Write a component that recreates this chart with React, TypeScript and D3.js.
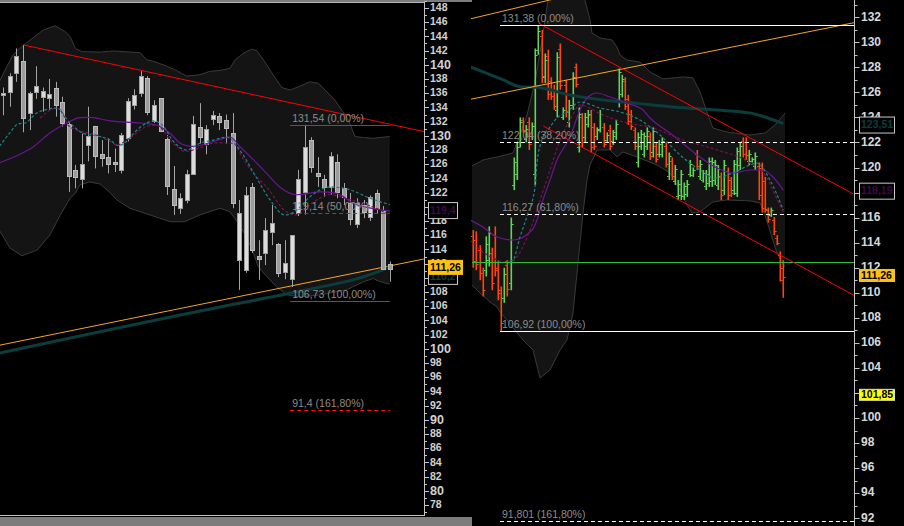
import React from "react";
import * as d3 from "d3";

type P = [number, number];
type OHLC = [number, number, number, number];

// ---------- LEFT PANEL DATA (candles: open, high, low, close) ----------
const leftCandles: OHLC[] = [
  [135.65, 136.8, 132.9, 136.0], [136.1, 138.8, 134.1, 138.4], [138.8, 142.3, 137.6, 141.2],
  [140.5, 142.8, 130.5, 132.5], [133.2, 136.2, 130.8, 136.0], [136.1, 139.8, 135.2, 137.0],
  [135.4, 136.8, 133.4, 136.3], [135.3, 138.0, 133.6, 135.9], [136.7, 137.6, 132.7, 134.3],
  [134.7, 135.5, 131.3, 131.8], [131.7, 131.8, 122.1, 124.4], [125.2, 125.9, 122.6, 124.2],
  [123.9, 130.3, 122.6, 126.0], [128.8, 134.1, 126.4, 130.0], [131.4, 131.4, 125.4, 127.2],
  [127.4, 129.4, 125.65, 126.8], [127.0, 129.65, 124.7, 126.0], [126.3, 128.2, 124.9, 126.0],
  [125.2, 130.4, 124.7, 130.1], [129.7, 135.3, 129.2, 134.9], [134.3, 136.55, 133.7, 135.75],
  [136.0, 139.1, 135.5, 138.4], [138.1, 138.4, 132.9, 133.3], [132.1, 135.0, 131.8, 134.3],
  [135.3, 135.3, 130.6, 130.7], [129.55, 130.1, 121.66, 122.9], [122.5, 125.75, 118.85, 120.25],
  [119.8, 121.9, 119.0, 121.2], [120.96, 125.2, 120.5, 124.6], [124.5, 132.8, 124.5, 131.6],
  [131.2, 134.6, 128.9, 129.8], [128.9, 131.5, 127.4, 131.0], [132.5, 133.5, 131.5, 133.0],
  [132.75, 133.2, 130.8, 131.9], [132.2, 133.0, 128.9, 131.1], [130.4, 133.2, 119.8, 120.5],
  [112.5, 120.96, 108.3, 119.1], [111.1, 122.8, 110.7, 121.7], [122.8, 123.35, 113.5, 113.9],
  [113.1, 115.3, 109.7, 112.7], [113.5, 118.4, 111.8, 116.7], [116.45, 120.25, 114.6, 117.7],
  [114.8, 114.9, 110.1, 110.7], [110.8, 115.3, 109.8, 112.1], [109.8, 116.0, 108.7, 116.0],
  [119.1, 125.2, 118.7, 123.9], [122.1, 131.54, 118.9, 128.4], [129.4, 129.8, 124.8, 125.6],
  [124.75, 127.0, 122.8, 124.3], [123.9, 124.5, 121.4, 122.8], [122.8, 127.7, 121.7, 127.2],
  [126.3, 127.4, 121.2, 122.1], [122.65, 123.35, 120.25, 121.4], [120.5, 121.95, 117.4, 118.3],
  [117.6, 121.2, 117.0, 120.5], [120.25, 120.96, 118.4, 119.3], [118.6, 121.6, 118.0, 121.4],
  [121.9, 122.4, 119.1, 119.8], [119.4, 120.1, 111.1, 111.3], [112.0, 112.3, 109.45, 111.26],
];

const leftBandUpper: P[] = [
  [-0.6, 137.6], [0.5, 139.7], [1.5, 141.4], [2.5, 142.3], [4.1, 143.5], [6.1, 144.9], [7.9, 145.5],
  [9.4, 144.7], [10.2, 144.0], [11, 142.3], [12, 141.85], [14.8, 141.8], [16.8, 141.95], [20.9, 141.7],
  [21.9, 140.7], [22.9, 140.5], [24.4, 140.0], [26, 139.4], [27.2, 138.8], [28, 138.4], [30, 138.6],
  [31.6, 139.1], [33.1, 139.2], [34.6, 139.5], [35.4, 140.7], [36.6, 141.6], [37.9, 142.2], [38.7, 142.0],
  [39.7, 140.7], [41.2, 138.6], [42.5, 136.8], [43.8, 136.45], [45.3, 137.0], [46.8, 137.6], [48.1, 137.4],
  [49.4, 136.2], [50.6, 135.05], [51.7, 133.6], [52.7, 132.2], [53.7, 129.9], [55, 129.75], [56.5, 129.65],
  [59, 129.9],
];
const leftBandLower: P[] = [
  [-0.6, 116.7], [1, 114.2], [2.85, 113.1], [5.15, 113.9], [7.1, 116.0], [8.7, 118.85], [10.2, 121.2],
  [11, 121.9], [11.7, 123.1], [13.2, 123.5], [14.8, 123.2], [16.3, 122.0], [17.3, 121.0], [19.3, 119.8],
  [22.4, 118.85], [25.5, 117.9], [27.7, 117.9], [30, 118.85], [33.1, 119.8], [34.6, 119.3], [36.1, 117.4],
  [37.2, 115.6], [38.2, 113.45], [38.9, 111.6], [40.2, 110.2], [41.7, 108.75], [43.3, 107.6], [45.3, 107.3],
  [48.35, 107.6], [52.4, 108.3], [55, 109.45], [56.5, 109.9], [57.5, 109.45], [59, 109.1],
];
const leftTealDash: P[] = [
  [-0.6, 128.5], [1.0, 130.4], [2.3, 131.7], [3.3, 131.8], [5.1, 133.2], [6.6, 133.7], [7.9, 133.9],
  [8.7, 133.7], [9.4, 132.7], [11.0, 131.1], [12.2, 130.35], [14.3, 130.0], [16.3, 129.4], [17.6, 128.6],
  [18.8, 129.2], [19.9, 130.35], [20.9, 131.2], [21.9, 131.8], [22.9, 132.1], [24.4, 131.4], [25.8, 129.4],
  [28.0, 128.0], [30.0, 128.95], [32.1, 129.4], [34.1, 129.8], [36.1, 128.0], [38.4, 124.5], [40.7, 121.0],
  [43.0, 118.85], [44.8, 119.55], [46.8, 121.4], [49.9, 122.8], [52.9, 122.4], [56.0, 121.2], [59.0, 120.3],
];
const leftPurple: P[] = [
  [-0.6, 126.2], [2.55, 127.4], [4.5, 128.4], [7.1, 130.4], [9.7, 131.8], [11.7, 132.55], [13.2, 132.6],
  [16.3, 132.1], [20.9, 131.8], [23.4, 131.5], [25.45, 130.35], [27.2, 128.85], [29.0, 128.5], [32.1, 129.2],
  [34.6, 129.8], [36.1, 128.5], [38.2, 126.6], [40.2, 124.7], [42.2, 122.8], [44.8, 121.7], [48.35, 122.1],
  [50.9, 121.9], [53.4, 120.5], [57.5, 119.6], [59.0, 119.4],
];
const leftMaroonDash: P[] = [
  [5.6, 132.5], [8.15, 133.9], [9.2, 132.9], [9.9, 131.5], [11.2, 130.8], [13.2, 130.35], [14.8, 129.9],
  [16.3, 129.2], [17.3, 128.7], [19.3, 129.7], [21.9, 131.3], [23.4, 131.5], [24.4, 130.8], [25.45, 129.4],
  [26.5, 128.5], [27.7, 127.8], [30.0, 128.3], [32.3, 129.0], [35.1, 128.95], [36.6, 126.8], [38.1, 124.8],
  [40.2, 122.8], [43.2, 119.3], [44.8, 118.85], [46.8, 120.3], [49.9, 121.7], [52.9, 121.0], [57.5, 119.55],
  [59.0, 118.85],
];
const leftTealThick: P[] = [
  [-0.6, 99.4], [33.1, 105.9], [45.3, 108.1], [48.35, 108.7], [53.4, 109.7], [57.05, 110.8], [59.0, 111.5],
];
const leftRedTrend: P[] = [[3.05, 142.8], [64.2, 130.6]];
const leftOrangeTrend: P[] = [[-0.6, 100.5], [64.2, 112.65]];
const leftFibLevels = [131.54, 119.14, 106.73, 91.4];
const leftFibLabels = ["131,54 (0,00%)", "119,14 (50,00%)", "106,73 (100,00%)", "91,4 (161,80%)"];
const leftFibSpan: P = [43.8, 59];
const leftTicks = d3.range(78, 149, 2);
const leftMinorTicks = d3.range(77, 150, 2);
const leftTicksHidden = [110];

// ---------- RIGHT PANEL DATA (bars: open, high, low, close) ----------
const rightBars: OHLC[] = [
  [114.5, 115.0, 112.0, 112.5], [114.2, 114.9, 111.8, 112.3], [113.4, 113.8, 111.0, 111.6],
  [111.6, 112.0, 109.7, 110.2], [111.8, 114.5, 111.3, 113.9], [112.6, 115.3, 112.1, 114.8],
  [113.2, 113.6, 110.2, 110.8], [114.6, 115.3, 111.3, 111.8], [112.0, 112.6, 109.4, 110.0],
  [110.2, 110.5, 106.92, 107.6], [109.6, 112.0, 109.2, 111.5], [112.2, 112.6, 109.7, 110.3],
  [110.8, 116.0, 110.2, 115.5], [118.6, 120.8, 118.2, 120.4], [119.5, 122.0, 119.0, 121.6],
  [122.0, 124.0, 121.6, 123.6], [123.8, 124.0, 122.8, 123.0], [122.3, 123.4, 122.0, 123.1],
  [123.6, 124.0, 121.4, 121.9], [122.5, 123.6, 122.2, 123.3], [119.5, 129.5, 118.6, 129.0],
  [129.4, 131.38, 129.0, 130.9], [130.5, 131.0, 126.75, 127.3], [127.2, 129.1, 126.75, 128.6],
  [128.9, 129.4, 125.4, 125.9], [126.9, 127.2, 125.4, 125.7], [126.2, 126.6, 124.6, 124.9],
  [124.6, 129.2, 124.0, 128.8], [129.5, 129.9, 126.2, 126.6], [124.0, 124.8, 123.8, 124.6],
  [126.6, 127.0, 124.0, 124.4], [123.6, 125.4, 123.2, 125.0], [125.0, 127.6, 124.6, 127.2],
  [128.0, 128.3, 126.4, 126.7], [121.6, 124.8, 121.2, 124.3], [124.0, 124.35, 121.6, 122.0],
  [122.4, 124.35, 122.0, 124.0], [123.5, 124.6, 123.2, 124.3], [124.2, 124.6, 121.2, 121.6],
  [123.2, 123.55, 121.4, 121.7], [122.5, 123.2, 122.2, 123.0], [123.1, 124.6, 122.8, 124.3],
  [123.2, 123.55, 121.6, 121.9], [122.2, 122.8, 122.0, 122.6], [123.0, 123.4, 121.4, 121.7],
  [122.1, 123.0, 121.8, 122.8], [122.5, 123.8, 122.2, 123.5], [125.2, 127.9, 124.8, 127.6],
  [125.9, 127.4, 125.6, 127.1], [126.9, 127.2, 124.6, 124.9], [125.5, 125.8, 123.4, 123.7],
  [124.3, 124.6, 123.0, 123.3], [123.0, 123.2, 121.4, 121.7], [120.4, 122.8, 120.0, 122.4],
  [121.7, 123.0, 121.4, 122.7], [121.1, 122.8, 120.8, 122.5], [121.7, 123.2, 121.4, 122.9],
  [122.5, 122.8, 120.6, 120.9], [121.2, 123.2, 120.8, 122.9], [121.7, 122.0, 120.4, 120.7],
  [121.1, 122.2, 120.8, 121.9], [121.1, 122.4, 120.8, 122.1], [121.7, 122.0, 120.0, 120.3],
  [119.3, 121.2, 119.0, 120.9], [120.5, 120.8, 119.0, 119.3], [118.9, 120.2, 118.6, 119.9],
  [117.7, 119.0, 117.4, 118.7], [117.8, 119.8, 117.4, 119.5], [117.7, 118.8, 117.4, 118.5],
  [117.9, 119.0, 117.65, 118.7], [119.5, 120.6, 119.25, 120.3], [119.4, 120.0, 119.25, 119.8],
  [121.1, 121.4, 119.8, 120.1], [119.3, 120.6, 119.0, 120.3], [119.0, 119.8, 118.8, 119.6],
  [118.5, 119.8, 118.2, 119.5], [118.8, 120.8, 118.45, 120.5], [118.9, 120.8, 118.45, 120.4],
  [119.0, 120.6, 118.6, 120.2], [118.6, 120.2, 118.2, 119.9], [119.3, 119.6, 117.4, 117.8],
  [118.2, 120.6, 117.8, 120.2], [119.7, 120.0, 117.4, 117.8], [119.0, 119.25, 117.65, 118.0],
  [118.2, 120.6, 117.8, 120.3], [118.0, 121.6, 117.65, 121.3], [120.2, 122.0, 119.8, 121.7],
  [122.1, 122.4, 120.8, 121.1], [122.0, 122.4, 120.6, 121.0], [120.5, 121.4, 120.2, 121.1],
  [120.5, 120.8, 120.4, 120.7], [120.1, 121.2, 119.8, 120.9], [120.1, 120.4, 117.4, 117.8],
  [120.0, 120.4, 116.4, 116.8], [118.9, 119.25, 116.4, 116.7], [116.6, 116.8, 115.6, 115.9],
  [116.2, 116.8, 116.05, 116.6], [115.8, 116.05, 114.6, 114.9], [114.4, 114.6, 113.8, 114.0],
  [113.0, 113.3, 110.9, 111.0], [112.0, 112.6, 109.6, 111.26],
];

const rightBandUpper: P[] = [
  [-0.42, 120.12], [3.13, 120.6], [7.65, 120.84], [12.81, 121.16], [15.06, 122.6], [17.32, 124.19],
  [19.26, 126.19], [20.55, 127.78], [22.16, 130.18], [24.1, 133.37], [27.97, 135.37], [32.81, 135.37],
  [36.03, 133.37], [37.65, 131.78], [38.29, 130.74], [40.87, 130.34], [44.74, 130.18], [46.35, 129.62],
  [47.32, 128.98], [49.58, 128.58], [53.77, 128.42], [57.0, 127.62], [61.19, 127.07], [67.65, 127.23],
  [70.87, 127.15], [73.13, 126.03], [75.71, 124.19], [77.32, 123.15], [81.84, 122.83], [89.26, 122.59],
  [94.1, 122.75], [97.97, 123.55], [100.55, 124.35],
];
const rightBandLower: P[] = [
  [-0.42, 110.62], [2.16, 109.98], [5.39, 109.26], [7.65, 108.86], [8.61, 108.46], [10.87, 107.82],
  [12.81, 107.19], [16.03, 106.23], [19.26, 105.43], [21.52, 103.19], [24.74, 103.83], [27.97, 105.43],
  [30.23, 106.23], [32.16, 108.38], [33.77, 112.37], [35.39, 116.37], [36.68, 119.0], [37.65, 120.2],
  [39.9, 121.4], [44.1, 121.4], [46.35, 120.84], [48.29, 121.24], [52.81, 120.84], [59.26, 120.2],
  [63.45, 119.56], [66.68, 118.2], [68.94, 117.0], [70.55, 116.37], [73.13, 116.45], [77.32, 117.25],
  [81.84, 117.41], [89.26, 117.33], [92.48, 117.17], [93.77, 116.45], [97.97, 113.17], [100.55, 112.06],
];
const rightTealThick: P[] = [
  [-1.06, 128.05], [9.68, 126.99], [15.06, 126.45], [20.45, 126.4], [31.19, 125.79], [41.94, 125.39],
  [52.71, 125.12], [63.45, 124.85], [78.52, 124.59], [89.26, 124.35], [100, 123.51],
];
const rightPurple: P[] = [
  [-1.06, 115.81], [3.13, 115.25], [7.65, 114.45], [12.81, 114.21], [18.94, 115.01], [20.55, 115.81],
  [22.16, 117.17], [24.74, 119.0], [27.0, 120.6], [31.19, 122.43], [34.42, 124.59], [37.0, 125.63],
  [39.9, 125.95], [44.1, 125.63], [49.58, 125.15], [54.74, 124.59], [57.0, 123.95], [63.45, 122.75],
  [73.13, 120.84], [78.61, 119.96], [83.77, 119.56], [89.26, 119.8], [93.45, 119.8], [96.68, 119.24],
  [100, 118.19],
];
const rightTealDash: P[] = [
  [10.2, 112.45], [12.8, 112.62], [15.06, 114.45], [17.65, 116.37], [19.9, 118.44], [20.55, 120.36],
  [22.16, 122.2], [24.74, 123.23], [27.0, 123.95], [30.23, 124.43], [34.42, 125.23], [40.87, 124.75],
  [47.32, 124.43], [53.77, 123.79], [60.23, 122.59], [66.68, 121.0], [73.13, 119.8], [77.97, 119.16],
  [83.77, 119.56], [89.26, 120.2], [91.52, 120.36], [95.71, 119.0], [100, 116.6],
];
const rightMaroonDash: P[] = [
  [-1.06, 114.21], [3.13, 113.25], [7.65, 112.62], [9.58, 112.45], [11.84, 112.45], [18.29, 115.01],
  [21.52, 117.41], [24.74, 119.8], [27.97, 122.2], [31.19, 123.79], [34.42, 124.99], [41.84, 124.19],
  [49.58, 123.55], [57.0, 123.23], [67.65, 122.2], [78.61, 121.4], [89.26, 120.36], [94.74, 119.16],
  [97.32, 117.81], [100, 116.45],
];
const rightOrangeTrend1: P[] = [[-1.06, 131.86], [30, 133.69]];
const rightOrangeTrend2: P[] = [[-1.06, 125.44], [122.8, 131.56]];
const rightRedTrend1: P[] = [[21.52, 131.46], [122.8, 117.86]];
const rightRedTrend2: P[] = [[22.58, 123.31], [122.6, 109.82]];
const rightGreenLevel = 112.45;
const rightFibLevels = [131.38, 122.04, 116.27, 106.92, 91.801];
const rightFibLabels = ["131,38 (0,00%)", "122,04 (38,20%)", "116,27 (61,80%)", "106,92 (100,00%)", "91,801 (161,80%)"];
const rightFibStart = 8.6;
const rightTicks = d3.range(92, 133, 2);
const rightMinorTicks = d3.range(91, 134, 2);
const rightTicksHidden = [102, 118];

const FONT = "'Liberation Sans', Arial, sans-serif";

export default function App() {
  const xL = d3.scaleLinear().domain([0, 59]).range([3.3, 389.75]);
  const yL = d3.scaleLinear().domain([78, 148]).range([505, 8]);
  const xR = d3.scaleLinear().domain([0, 100]).range([473.3, 783.3]);
  const yR = d3.scaleLinear().domain([92, 132]).range([518.2, 17.2]);

  const lineL = d3.line<P>().x((d) => xL(d[0])).y((d) => yL(d[1]));
  const smoothL = d3.line<P>().x((d) => xL(d[0])).y((d) => yL(d[1])).curve(d3.curveMonotoneX);
  const lineR = d3.line<P>().x((d) => xR(d[0])).y((d) => yR(d[1]));
  const smoothR = d3.line<P>().x((d) => xR(d[0])).y((d) => yR(d[1])).curve(d3.curveMonotoneX);

  const band = (up: P[], lo: P[], ln: d3.Line<P>) => ln([...up, ...lo.slice().reverse()]) + "Z";

  const AXL = 424.5;
  const AXR = 854.5;
  const leftFibX0 = xL(leftFibSpan[0]);
  const leftFibX1 = xL(leftFibSpan[1]);
  const rightFibX0 = xR(rightFibStart);

  const valueBox = (
    x: number, cy: number, w: number, h: number, text: string,
    fill: string, color: string, stroke: string
  ) => (
    <g>
      <rect x={x + 0.5} y={cy - h / 2 + 0.5} width={w} height={h} fill={fill} stroke={stroke} strokeWidth={1} />
      <text x={x + 2} y={cy} dy="0.36em" fontFamily={FONT} fontSize={10.5} fontWeight="bold" fill={color}>
        {text}
      </text>
    </g>
  );

  return (
    <svg
      width={904}
      height={526}
      style={{ position: "absolute", left: 0, top: 0, display: "block", background: "#000" }}
    >
      <defs>
        <clipPath id="clipL">
          <rect x={0} y={3} width={424} height={512} />
        </clipPath>
        <clipPath id="clipR">
          <rect x={471} y={0} width={383} height={526} />
        </clipPath>
      </defs>
      <rect x={0} y={0} width={904} height={526} fill="#000" />

      {/* ---------------- LEFT PANEL ---------------- */}
      <g clipPath="url(#clipL)">
        <path d={band(leftBandUpper, leftBandLower, lineL)} fill="#141414" />
        <path d={lineL(leftBandUpper) || ""} fill="none" stroke="#3a3a3a" strokeWidth={1} />
        <path d={lineL(leftBandLower) || ""} fill="none" stroke="#3a3a3a" strokeWidth={1} />

        <path d={lineL(leftOrangeTrend) || ""} fill="none" stroke="#f5a623" strokeWidth={1} />
        <path d={smoothL(leftTealThick) || ""} fill="none" stroke="#0b3d3d" strokeWidth={3} />

        {leftCandles.map((c, i) => {
          const [o, h, l, cl] = c;
          const xc = Math.round(xL(i));
          const up = cl >= o;
          const top = yL(Math.max(o, cl));
          const bot = yL(Math.min(o, cl));
          return (
            <g key={i}>
              <line x1={xc + 0.5} x2={xc + 0.5} y1={yL(h)} y2={yL(l)} stroke="#a4a4a4" strokeWidth={1} />
              <rect
                x={xc - 1.5}
                y={Math.round(top) + 0.5}
                width={4}
                height={Math.max(1, Math.round(bot - top))}
                fill={up ? "#dcdcdc" : "#9c9c9c"}
                stroke={up ? "#a0a0a0" : "#bcbcbc"}
                strokeWidth={1}
              />
            </g>
          );
        })}

        <path d={smoothL(leftPurple) || ""} fill="none" stroke="#6a1596" strokeWidth={1.2} />
        <path d={smoothL(leftMaroonDash) || ""} fill="none" stroke="#7a1050" strokeWidth={1.2} strokeDasharray="3,2" />
        <path d={smoothL(leftTealDash) || ""} fill="none" stroke="#1c8585" strokeWidth={1.2} strokeDasharray="3,2" />

        <path d={lineL(leftRedTrend) || ""} fill="none" stroke="#ff0000" strokeWidth={1} />

        {leftFibLevels.map((v, k) => (
          <g key={k}>
            <line
              x1={leftFibX0}
              x2={leftFibX1}
              y1={Math.round(yL(v)) + 0.5}
              y2={Math.round(yL(v)) + 0.5}
              stroke="#ff1010"
              strokeWidth={1}
              strokeDasharray={k % 2 === 1 ? "4,3" : undefined}
            />
            <text x={leftFibX0 + 2} y={yL(v) - 3} fontFamily={FONT} fontSize={10.5} fill="#8c8c8c">
              {leftFibLabels[k]}
            </text>
          </g>
        ))}
      </g>

      {/* left frame */}
      <rect x={0} y={0} width={472} height={2} fill="#7c7c7c" />
      <line x1={0} x2={AXL} y1={2.5} y2={2.5} stroke="#b8b8b8" strokeWidth={1} />
      <line x1={AXL} x2={AXL} y1={2} y2={516} stroke="#c4c4c4" strokeWidth={1} />
      <line x1={0} x2={AXL} y1={515.5} y2={515.5} stroke="#c4c4c4" strokeWidth={1} />
      <rect x={0} y={517} width={472} height={9} fill="#7c7c7c" />

      {/* left axis */}
      {leftMinorTicks.map((v) => (
        <line key={"lm" + v} x1={AXL} x2={AXL + 2.5} y1={Math.round(yL(v)) + 0.5} y2={Math.round(yL(v)) + 0.5} stroke="#c4c4c4" />
      ))}
      {leftTicks.map((v) => (
        <g key={"lt" + v}>
          <line x1={AXL} x2={AXL + 4.5} y1={Math.round(yL(v)) + 0.5} y2={Math.round(yL(v)) + 0.5} stroke="#c4c4c4" />
          {leftTicksHidden.indexOf(v) < 0 && (
            <text
              x={430}
              y={yL(v) - 0.5}
              dy="0.36em"
              fontFamily={FONT}
              fontSize={v % 10 === 0 ? 12.5 : 10.5}
              fontWeight="bold"
              fill="#d2d2d2"
            >
              {String(v)}
            </text>
          )}
        </g>
      ))}
      {valueBox(428, yL(119.4) - 1, 29, 16, "119,4", "#000", "#3a0a4a", "#c8c8c8")}
      {valueBox(428, yL(110.2) - 0.5, 29, 16, "110,2", "#000", "#0b3d3d", "#c8c8c8")}
      {valueBox(428, yL(111.26) - 2, 34, 14, "111,26", "#ffc20e", "#000", "#ffc20e")}

      {/* ---------------- RIGHT PANEL ---------------- */}
      <g clipPath="url(#clipR)">
        <path d={band(rightBandUpper, rightBandLower, lineR)} fill="#141414" />
        <path d={lineR(rightBandUpper) || ""} fill="none" stroke="#3a3a3a" strokeWidth={1} />
        <path d={lineR(rightBandLower) || ""} fill="none" stroke="#3a3a3a" strokeWidth={1} />

        {rightBars.map((b, i) => {
          const [o, h, l, c] = b;
          const xc = Math.round(xR(i));
          const col = c >= o ? "#62d45a" : "#ff4510";
          return (
            <g key={i} fill={col}>
              <rect x={xc - 0.5} y={yR(h)} width={1.6} height={Math.max(1, yR(l) - yR(h))} />
              <rect x={xc - 2} y={Math.round(yR(o))} width={1.6} height={1} />
              <rect x={xc + 1} y={Math.round(yR(c))} width={1.6} height={1} />
            </g>
          );
        })}

        <path d={smoothR(rightTealThick) || ""} fill="none" stroke="#0b3d3d" strokeWidth={3} />
        <path d={smoothR(rightPurple) || ""} fill="none" stroke="#6a1596" strokeWidth={1.2} />
        <path d={smoothR(rightMaroonDash) || ""} fill="none" stroke="#7a1050" strokeWidth={1.2} strokeDasharray="3,2" />
        <path d={smoothR(rightTealDash) || ""} fill="none" stroke="#1c8585" strokeWidth={1.2} strokeDasharray="3,2" />

        <line
          x1={472}
          x2={AXR}
          y1={Math.round(yR(rightGreenLevel)) + 0.5}
          y2={Math.round(yR(rightGreenLevel)) + 0.5}
          stroke="#2fbf2f"
          strokeWidth={1}
        />

        <path d={lineR(rightOrangeTrend1) || ""} fill="none" stroke="#f5a623" strokeWidth={1} />
        <path d={lineR(rightOrangeTrend2) || ""} fill="none" stroke="#f5a623" strokeWidth={1} />
        <path d={lineR(rightRedTrend1) || ""} fill="none" stroke="#ff0000" strokeWidth={1} />
        <path d={lineR(rightRedTrend2) || ""} fill="none" stroke="#ff0000" strokeWidth={1} />

        {rightFibLevels.map((v, k) => (
          <g key={k}>
            <line
              x1={rightFibX0}
              x2={AXR}
              y1={Math.round(yR(v)) + 0.5}
              y2={Math.round(yR(v)) + 0.5}
              stroke="#ffffff"
              strokeWidth={1}
              strokeDasharray={k === 0 || k === 3 ? undefined : "4,3"}
            />
            <text x={rightFibX0 + 2} y={yR(v) - 3} fontFamily={FONT} fontSize={10.5} fill="#8c8c8c">
              {rightFibLabels[k]}
            </text>
          </g>
        ))}
      </g>

      {/* right axis */}
      <line x1={AXR} x2={AXR} y1={0} y2={526} stroke="#c4c4c4" strokeWidth={1} />
      {rightMinorTicks.map((v) => (
        <line key={"rm" + v} x1={AXR} x2={AXR + 3} y1={Math.round(yR(v)) + 0.5} y2={Math.round(yR(v)) + 0.5} stroke="#c4c4c4" />
      ))}
      {rightTicks.map((v) => (
        <g key={"rt" + v}>
          <line x1={AXR} x2={AXR + 5} y1={Math.round(yR(v)) + 0.5} y2={Math.round(yR(v)) + 0.5} stroke="#c4c4c4" />
          {rightTicksHidden.indexOf(v) < 0 && (
            <text x={861} y={yR(v) - 1} dy="0.36em" fontFamily={FONT} fontSize={12} fontWeight="bold" fill="#d8d8d8">
              {String(v)}
            </text>
          )}
        </g>
      ))}
      {valueBox(859, yR(123.51) + 1, 35, 16, "123,51", "#000", "#0b3d3d", "#c8c8c8")}
      {valueBox(859, yR(118.19) + 0.5, 35, 16, "118,19", "#000", "#3a0a4a", "#c8c8c8")}
      {valueBox(859, yR(111.26) - 2, 35, 12, "111,26", "#ffc20e", "#000", "#ffc20e")}
      {valueBox(859, yR(101.85) - 0.5, 35, 11, "101,85", "#ffff00", "#000", "#e0e0a0")}
    </svg>
  );
}
